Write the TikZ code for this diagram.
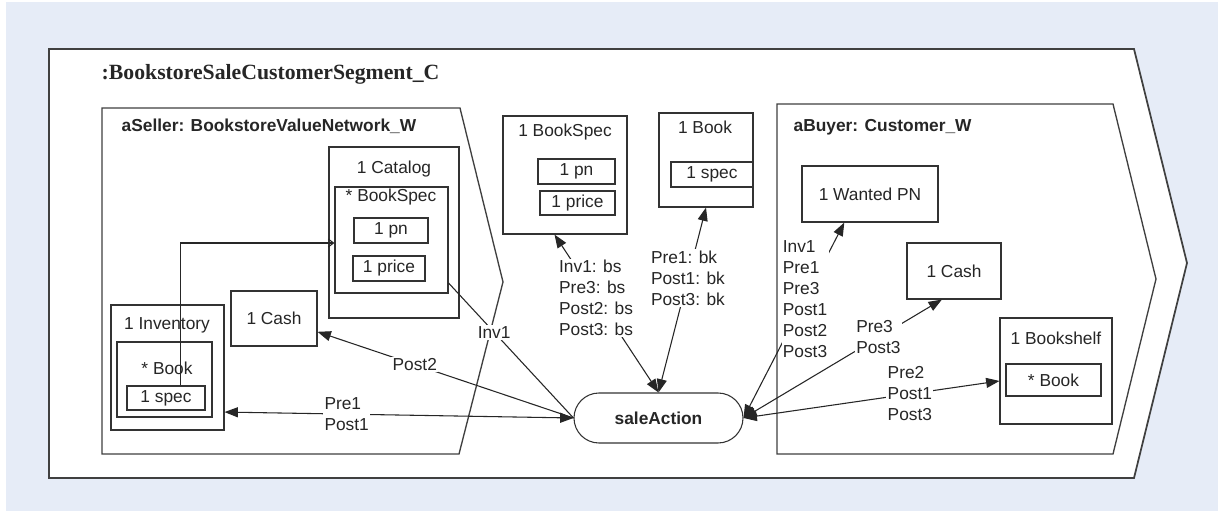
\documentclass[tikz,border=0pt]{standalone}
\usepackage{fontspec}
\setmainfont{Liberation Serif}
\setsansfont{Liberation Sans}
\usetikzlibrary{arrows.meta}

\definecolor{bgblue}{HTML}{E6ECF7}
\newdimen\pxu \pxu=0.75pt

\begin{document}
\begin{tikzpicture}[x=0.75pt,y=-0.75pt,font=\sffamily\fontsize{13}{15.75}\selectfont,text=black!85,
  >={Triangle[length=10pt,width=7.5pt]}]
  \tikzstyle{box}=[draw=black!80,line width=0.8pt,inner sep=0pt,fill=white]
  \tikzstyle{frame}=[draw=black!75,line width=1pt]
  \tikzstyle{lbl}=[fill=white,align=left,inner sep=1pt]
  \tikzstyle{link}=[draw=black!85,line width=0.8pt]
  \tikzstyle{bold}=[font=\sffamily\bfseries\fontsize{13}{15.75}\selectfont]

  \useasboundingbox (0,0) rectangle (1218,513);
  \fill[bgblue] (6,2) rectangle (1218,511);

  % segment
  \draw[frame,fill=white,line width=1.3pt] (49,49) -- (1134,49) -- (1187,263) -- (1134,478) -- (49,478) -- cycle;
  \node[anchor=base west,font=\rmfamily\bfseries\fontsize{16.3}{19}\selectfont](segname) at (97,80){:BookstoreSaleCustomerSegment\_C};

  % seller
  \draw[frame] (102,108) -- (460,108) -- (503,282) -- (459,454) -- (102,454) -- cycle;
  \node[bold,anchor=west](sellername) at (117,126){aSeller: BookstoreValueNetwork\_W};

  \node[box,minimum width=130\pxu,minimum height=171\pxu](catalog) at (394,232.5){};
  \node(catalogname) at (394,169){1 Catalog};
  \node[box,minimum width=113\pxu,minimum height=106\pxu](specs) at (391.5,240){};
  \node(specsname) at (391,197){* BookSpec};
  \node[box,minimum width=74\pxu,minimum height=25\pxu](catpn) at (391,230.5){1 pn};
  \node[box,minimum width=72\pxu,minimum height=25\pxu](catprice) at (389,268.5){1 price};

  \node[box,minimum width=113\pxu,minimum height=125\pxu](inventory) at (167.5,367.5){};
  \node(inventoryname) at (167,325){1 Inventory};
  \node[box,minimum width=95\pxu,minimum height=75\pxu](books) at (164.5,379.5){};
  \node(booksname) at (167,368){* Book};
  \node[box,minimum width=78\pxu,minimum height=24\pxu](invspec) at (166,398){1 spec};

  \node[box,minimum width=86\pxu,minimum height=55\pxu](sellercash) at (274,318.5){1 Cash};

  % middle
  \node[box,minimum width=124\pxu,minimum height=118\pxu](bookspec) at (565,175){};
  \node(bookspecname) at (565,132){1 BookSpec};
  \node[box,minimum width=77\pxu,minimum height=25\pxu](pn) at (576.5,171.5){1 pn};
  \node[box,minimum width=75\pxu,minimum height=24\pxu](price) at (577.5,203){1 price};

  \node[box,minimum width=94\pxu,minimum height=94\pxu](book) at (706,160){};
  \node(bookname) at (705,127){1 Book};
  \node[box,minimum width=82\pxu,minimum height=25\pxu](bookspecref) at (712,174.5){1 spec};

  \node[box,bold,rounded corners=25\pxu,minimum width=169\pxu,minimum height=50\pxu](sale) at (658.5,418){saleAction};

  % buyer
  \draw[frame] (777,104) -- (1113,104) -- (1156,279) -- (1113,454) -- (777,454) -- cycle;
  \node[bold,anchor=west](buyername) at (789,127){aBuyer: Customer\_W};
  \node[box,minimum width=136\pxu,minimum height=56\pxu](wanted) at (870,194){1 Wanted PN};
  \node[box,minimum width=94\pxu,minimum height=56\pxu](buyercash) at (954,271){1 Cash};
  \node[box,minimum width=112\pxu,minimum height=106\pxu](shelf) at (1056,371){};
  \node(shelfname) at (1056,338){1 Bookshelf};
  \node[box,minimum width=95\pxu,minimum height=32\pxu](shelfbook) at (1053.5,380){* Book};

  % links
  \draw[link,-{Straight Barb[length=4pt,width=6pt]}] (invspec.41) |- (specs.183);
  \draw[link,<->] (sale.west) -- node[lbl,pos=0.65]{Pre1\\Post1} (inventory.-38);
  \draw[link,->] (sale.west) -- node[lbl,pos=0.62]{Post2} (sellercash.-17);
  \draw[link] (specs.-37) -- node[lbl,pos=0.365]{Inv1} (sale.west);
  \draw[link,<->] (bookspec.-100) -- node[lbl,pos=0.4]{Inv1: bs\\Pre3: bs\\Post2: bs\\Post3: bs} (sale.north);
  \draw[link,<->] (book.south) -- node[lbl,pos=0.38]{Pre1: bk\\Post1: bk\\Post3: bk} (sale.north);
  \draw[link,<->] (wanted.-132) -- node[lbl,pos=0.39]{Inv1\\Pre1\\Pre3\\Post1\\Post2\\Post3} (sale.east);
  \draw[link,<->] (buyercash.-113) -- node[lbl,pos=0.32]{Pre3\\Post3} (sale.east);
  \draw[link,<->] (shelf.-170) -- node[lbl,pos=0.35]{Pre2\\Post1\\Post3} (sale.east);
\end{tikzpicture}
\end{document}
